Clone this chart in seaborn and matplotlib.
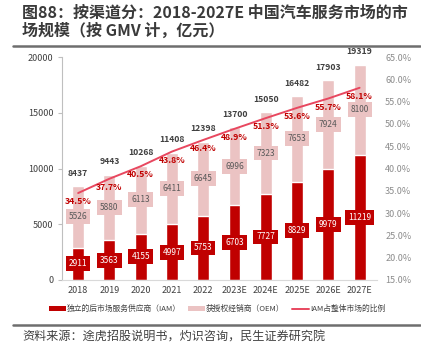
import numpy as np
import pandas as pd
import seaborn as sns
import matplotlib.pyplot as plt
from matplotlib.lines import Line2D
from matplotlib.patches import Patch
from matplotlib.ticker import FuncFormatter

sns.set_style("white")
plt.rcParams['font.family'] = ['Noto Sans CJK SC', 'DejaVu Sans']

years = ['2018', '2019', '2020', '2021', '2022', '2023E', '2024E', '2025E', '2026E', '2027E']
iam = [2911, 3563, 4155, 4997, 5753, 6703, 7727, 8829, 9979, 11219]
oem = [5526, 5880, 6113, 6411, 6645, 6996, 7323, 7653, 7924, 8100]
totals = [8437, 9443, 10268, 11408, 12398, 13700, 15050, 16482, 17903, 19319]
iam_share = [34.5, 37.7, 40.5, 43.8, 46.4, 48.9, 51.3, 53.6, 55.7, 58.1]

dark_red = '#C00000'
pink = '#EBC3C3'
line_red = '#E8475F'

df = pd.DataFrame({'year': years, 'iam': iam, 'oem': oem, 'total': totals, 'share': iam_share})
df['stack'] = df['iam'] + df['oem']

fig = plt.figure(figsize=(4.21, 3.57), dpi=100)
ax = fig.add_axes([0.147, 0.2157, 0.748, 0.6246])

sns.barplot(data=df, x='year', y='stack', color=pink, width=0.38, ax=ax, saturation=1)
sns.barplot(data=df, x='year', y='iam', color=dark_red, width=0.38, ax=ax, saturation=1)

ax.set_ylim(0, 20000)
ax.set_yticks(range(0, 20001, 5000))
ax.set_xlim(-0.52, 9.55)
ax.set_xlabel('')
ax.set_ylabel('')
for s in ['top', 'right']:
    ax.spines[s].set_visible(False)
ax.spines['left'].set_color('#BFBFBF')
ax.spines['bottom'].set_color('#D9D9D9')
ax.tick_params(axis='y', length=3, color='#BFBFBF', labelsize=6.5, labelcolor='#404040', pad=3, left=True)
ax.tick_params(axis='x', length=0, labelsize=6.5, labelcolor='#404040', pad=4)

for i, row in df.iterrows():
    ax.text(i, row['iam'] / 2, f"{row['iam']}", ha='center', va='center', fontsize=6, color='white',
            bbox=dict(boxstyle='square,pad=0.35', fc=dark_red, ec='none'))
    ax.text(i, row['iam'] + row['oem'] / 2, f"{row['oem']}", ha='center', va='center', fontsize=6,
            color='#595959', bbox=dict(boxstyle='square,pad=0.35', fc=pink, ec='none'))
    ax.annotate(f"{row['total']}", (i, row['stack']), xytext=(0, 6), textcoords='offset points',
                ha='center', va='bottom', fontsize=6.2, color='#404040', fontweight='semibold')

ax2 = ax.twinx()
sns.lineplot(x=np.arange(len(years)), y=iam_share, color=line_red, linewidth=1.4, ax=ax2)
ax2.set_ylim(15, 65)
ax2.set_yticks(np.arange(15, 65.1, 5))
ax2.yaxis.set_major_formatter(FuncFormatter(lambda v, p: f"{v:.1f}%"))
ax2.tick_params(axis='y', length=0, labelsize=6.5, labelcolor='#8C8C8C', pad=6)
for s in ['top', 'right', 'left', 'bottom']:
    ax2.spines[s].set_visible(False)
for i, v in enumerate(iam_share):
    ax2.annotate(f"{v}%", (i, v), xytext=(0, -3), textcoords='offset points', ha='center', va='top',
                 fontsize=6.3, color=dark_red, fontweight='bold')

handles = [Patch(fc=dark_red, ec='none'), Patch(fc=pink, ec='none'),
           Line2D([0], [0], color=line_red, lw=1.4)]
labels = ['独立的后市场服务供应商（IAM）', '获授权经销商（OEM）', 'IAM占整体市场的比例']
fig.legend(handles, labels, loc='center', bbox_to_anchor=(0.515, 0.134), ncol=3, frameon=False,
           fontsize=5.6, handlelength=2.2, handleheight=0.5, handletextpad=0.15, columnspacing=0.9,
           labelcolor='#404040')

fig.text(0.052, 0.965, '图88：按渠道分：2018-2027E 中国汽车服务市场的市', fontsize=11.5, fontweight='bold',
         color='#3A3A3A', va='center', ha='left')
fig.text(0.052, 0.915, '场规模（按 GMV 计，亿元）', fontsize=11.5, fontweight='bold',
         color='#3A3A3A', va='center', ha='left')
fig.add_artist(Line2D([0.031, 0.998], [1 - 46 / 357] * 2, color='#6E6E6E', lw=1.8))
fig.add_artist(Line2D([0.031, 0.998], [1 - 325 / 357] * 2, color='#6E6E6E', lw=1.8))
fig.text(0.052, 1 - 337 / 357, '资料来源：途虎招股说明书，灼识咨询，民生证券研究院', fontsize=8.7,
         color='#404040', va='center', ha='left')

fig.savefig('out.png', dpi=100)
